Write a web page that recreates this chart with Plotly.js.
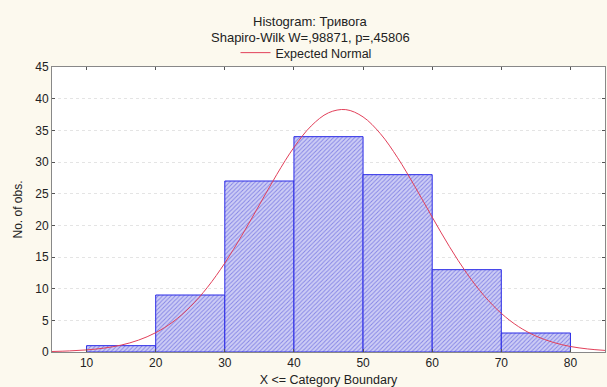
<!DOCTYPE html>
<html><head><meta charset="utf-8">
<script src="https://cdn.plot.ly/plotly-3.0.1.min.js"></script>
<style>html,body{margin:0;padding:0;background:#fcf9ee;}#c{width:607px;height:387px;}</style>
</head><body><div id="c"></div>
<script>
// Histogram data (bin lower boundaries and counts)
const binLower = [10, 20, 30, 40, 50, 60, 70];
const counts = [1, 9, 27, 34, 28, 13, 3];
const binWidth = 10;
// Expected normal curve
const curveX = [5, 7.5, 10, 12.5, 15, 17.5, 20, 22.5, 25, 27.5, 30, 32.5, 35, 37.5, 40, 42.5, 45, 47.5, 50, 52.5, 55, 57.5, 60, 62.5, 65, 67.5, 70, 72.5, 75, 77.5, 80, 82.5, 85];
const curveY = [0.08, 0.17, 0.33, 0.61, 1.09, 1.87, 3.05, 4.76, 7.13, 10.23, 14.04, 18.46, 23.23, 28.0, 32.31, 35.7, 37.77, 38.27, 37.12, 34.48, 30.67, 26.12, 21.3, 16.63, 12.43, 8.9, 6.1, 4.0, 2.52, 1.52, 0.87, 0.48, 0.25];
const xTicks = [10, 20, 30, 40, 50, 60, 70, 80];
const yTicks = [0, 5, 10, 15, 20, 25, 30, 35, 40, 45];
const titleText = 'Histogram: Тривога';
const subtitleText = 'Shapiro-Wilk W=,98871, p=,45806';

const centers = binLower.map(v => v + binWidth / 2);
const font = {family: 'Liberation Sans, Arial, sans-serif', size: 12, color: '#222'};

const traces = [
  {type: 'bar', x: centers, y: counts, width: binWidth, showlegend: false,
   marker: {color: '#c4c4f2', line: {color: '#2a2ae6', width: 1},
            pattern: {shape: '/', fgcolor: '#8484e6', bgcolor: '#cdcdf5', size: 3, solidity: 0.3}},
   hoverinfo: 'skip'},
  {type: 'scatter', mode: 'lines', x: curveX, y: curveY, name: 'Expected Normal',
   line: {color: '#e2405a', width: 1, shape: 'spline'}}
];

const layout = {
  width: 607, height: 387,
  paper_bgcolor: '#fcf9ee', plot_bgcolor: '#ffffff',
  margin: {l: 52, r: 2, t: 67, b: 35},
  font: font,
  annotations: [
    {text: titleText, xref: 'paper', yref: 'paper', x: (310 - 52) / 553, xanchor: 'center', y: 1 + (67 - 22) / 285, yanchor: 'middle', showarrow: false, font: {size: 13, color: '#222'}},
    {text: subtitleText, xref: 'paper', yref: 'paper', x: (310 - 52) / 553, xanchor: 'center', y: 1 + (67 - 38) / 285, yanchor: 'middle', showarrow: false, font: {size: 13, color: '#222'}}
  ],
  showlegend: true,
  legend: {orientation: 'h', x: (306 - 52) / 553, xanchor: 'center', y: 1 + (67 - 53) / 285, yanchor: 'middle', bgcolor: 'rgba(0,0,0,0)', font: {size: 12.5}, itemwidth: 30, tracegroupgap: 0},
  bargap: 0,
  xaxis: {range: [5, 85], tickvals: xTicks, ticks: 'inside', ticklen: 3, tickcolor: '#555',
          showline: true, linecolor: '#888', mirror: 'ticks', showgrid: false, zeroline: false,
          tickfont: {size: 12, color: '#222'},
          title: {text: 'X <= Category Boundary', standoff: 8, font: {size: 12.5}}},
  yaxis: {range: [0, 45], tickvals: yTicks, ticks: 'inside', ticklen: 3, tickcolor: '#555',
          showline: true, linecolor: '#888', mirror: 'ticks', showgrid: true, gridcolor: '#e4e4e4', griddash: 'dot',
          tickfont: {size: 12, color: '#222'},
          zeroline: false, title: {text: 'No. of obs.', standoff: 10, font: {size: 12}}}
};
Plotly.newPlot('c', traces, layout, {displayModeBar: false, staticPlot: true});
</script></body></html>
